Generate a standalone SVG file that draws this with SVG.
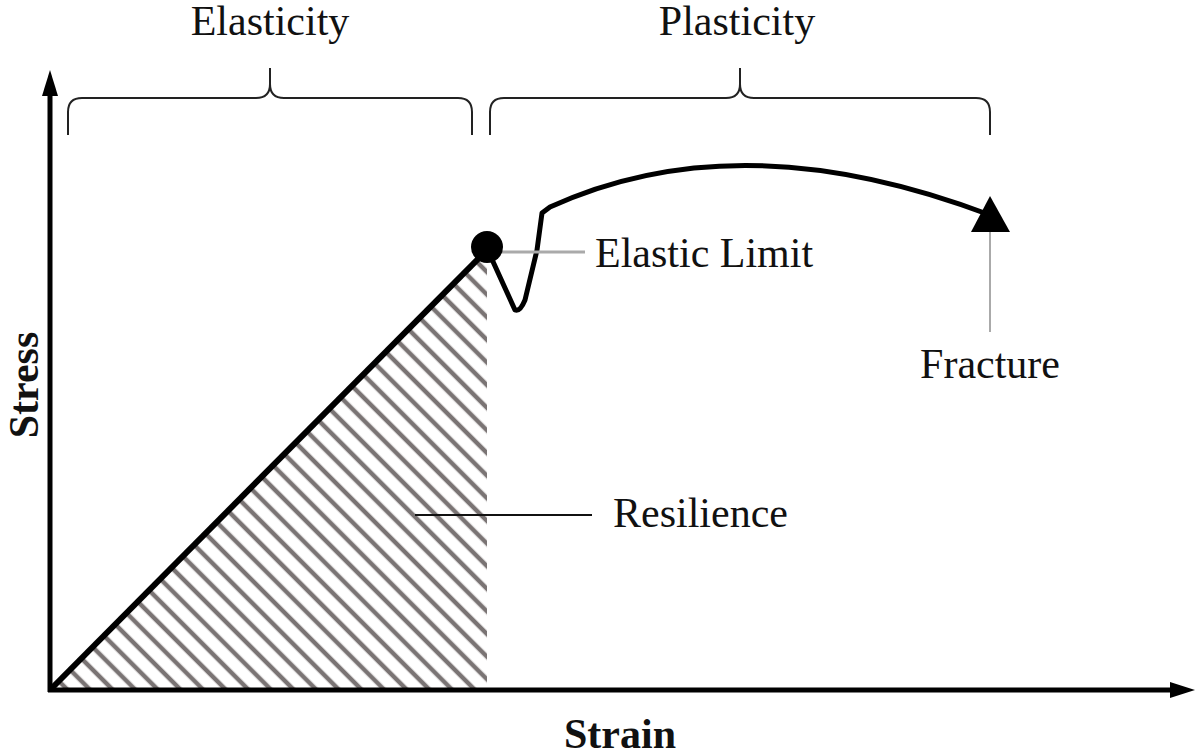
<svg xmlns="http://www.w3.org/2000/svg" width="1200" height="755" viewBox="0 0 1200 755">
<defs>
<pattern id="h" patternUnits="userSpaceOnUse" width="16" height="16" patternTransform="rotate(45)">
<line x1="0" y1="8" x2="16" y2="8" stroke="#7a7474" stroke-width="4.5"/>
</pattern>
<clipPath id="c"><polygon points="50,690 487,250 487,690"/></clipPath>
</defs>
<style>
.t{font-family:"Liberation Serif",serif;font-size:42px;fill:#111}
.b{font-weight:bold}
.br{fill:none;stroke:#222;stroke-width:2}
</style>
<rect width="1200" height="755" fill="#fff"/>
<g id="hatch"><rect x="40" y="240" width="460" height="460" fill="url(#h)" clip-path="url(#c)"/></g>
<g id="connectors">
<line x1="50" y1="692" x2="50" y2="90" stroke="#000" stroke-width="5"/>
<polygon points="50,70 42,96 58,96" fill="#000"/>
<line x1="48" y1="690" x2="1175" y2="690" stroke="#000" stroke-width="5"/>
<polygon points="1195,690 1170,682 1170,698" fill="#000"/>
<line x1="50" y1="690" x2="487" y2="250" stroke="#000" stroke-width="6"/>
<path d="M490,255 L515,310 Q520,312 525,300 L537,250 L542,213 L550,207 Q740,120 990,215" fill="none" stroke="#000" stroke-width="5" stroke-linejoin="round"/>
<line x1="490" y1="252" x2="585" y2="252" stroke="#aaa" stroke-width="3"/>
<line x1="990" y1="220" x2="990" y2="332" stroke="#aaa" stroke-width="2"/>
<line x1="415" y1="515" x2="592" y2="515" stroke="#111" stroke-width="2"/>
</g>
<g id="elastic-limit"><circle cx="487" cy="247" r="16" fill="#000"/><text class="t" x="595" y="267">Elastic Limit</text></g>
<g id="fracture"><polygon points="990,196 971,232 1010,232" fill="#000"/><text class="t" x="990" y="378" text-anchor="middle">Fracture</text></g>
<g id="resilience"><text class="t" x="613" y="527">Resilience</text></g>
<g id="elasticity"><path class="br" d="M68,135 L68,112 Q68,98 82,98 L256,98 Q270,98 270,84 L270,68 M270,84 Q270,98 284,98 L458,98 Q472,98 472,112 L472,135"/><text class="t" x="270" y="35" text-anchor="middle">Elasticity</text></g>
<g id="plasticity"><path class="br" d="M490,135 L490,112 Q490,98 504,98 L726,98 Q740,98 740,84 L740,68 M740,84 Q740,98 754,98 L976,98 Q990,98 990,112 L990,135"/><text class="t" x="737" y="35" text-anchor="middle">Plasticity</text></g>
<g id="axes-labels">
<text class="t b" x="620" y="748" text-anchor="middle">Strain</text>
<text class="t b" transform="translate(38,385) rotate(-90)" text-anchor="middle">Stress</text>
</g>
</svg>
